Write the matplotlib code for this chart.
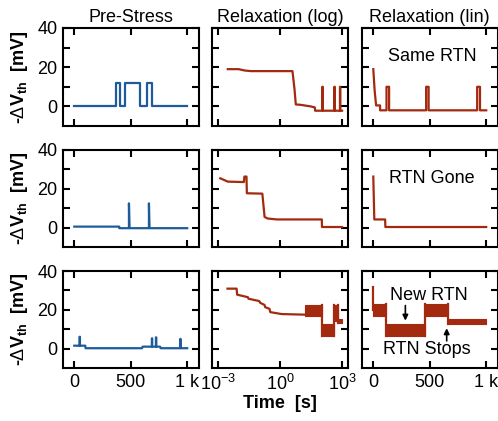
import matplotlib.pyplot as plt

plt.rcParams['font.family'] = ['Liberation Sans', 'DejaVu Sans']
plt.rcParams['mathtext.fontset'] = 'custom'
plt.rcParams['mathtext.rm'] = 'Liberation Sans'
plt.rcParams['mathtext.it'] = 'Liberation Sans:italic'
plt.rcParams['mathtext.bf'] = 'Liberation Sans:bold'

blue = '#1f5b9b'
red = '#a3290f'

# ---- row 1: same RTN ----
pre1_t = [0, 372, 372, 407, 407, 451, 451, 578, 578, 643, 643, 687, 687, 1000]
pre1_v = [0, 0, 12, 12, 0, 0, 12, 12, 0, 0, 12, 12, 0, 0]
log1_t = [3e-3, 1e-2, 2e-2, 4e-2, 4.0, 5.0, 5.8, 10, 30, 48, 50, 110, 110, 118, 118,
          420, 420, 445, 445, 790, 790, 820, 820, 1000]
log1_v = [19, 19, 18.3, 18, 18, 9, 1, 0.8, 0, -0.5, -2.2, -2.2, 10, 10, -2.2,
          -2.2, 10, 10, -2.2, -2.2, 10, 10, -2.2, -2.2]
lin1_t = [0, 12, 25, 60, 60, 117, 117, 140, 140, 468, 468, 490, 490, 920, 920, 945, 945, 1000]
lin1_v = [19, 8, 0.5, 0.5, -2, -2, 10, 10, -2, -2, 10, 10, -2, -2, 10, 10, -2, -2]

# ---- row 2: RTN gone ----
pre2_t = [0, 398, 398, 484, 484, 489, 489, 661, 661, 666, 666, 1000]
pre2_v = [0.5, 0.5, -0.3, -0.3, 12.5, -0.3, -0.3, -0.3, 12.5, -0.3, -0.3, -0.3]
log2_t = [1.3e-3, 3e-3, 1.4e-2, 1.8e-2, 1.9e-2, 2.4e-2, 2.5e-2, 0.14, 0.18, 0.25, 0.7,
          105, 107, 1000]
log2_v = [25.4, 23.7, 23.5, 23.5, 26.3, 26.3, 17.7, 17.5, 5.5, 4.7, 4.2, 4.2, 0.3, 0.3]
lin2_t = [0, 9, 105, 107, 1000]
lin2_v = [26.3, 4.2, 4.2, 0.3, 0.3]

# ---- row 3: new RTN / RTN stops ----
pre3_t = [0, 47, 47, 50, 50, 97, 100, 600, 605, 687, 687, 690, 690, 723, 723, 726, 726,
          760, 765, 938, 938, 941, 941, 1000]
pre3_v = [1.5, 1.5, 6.1, 6.1, 1.5, 1.5, 0.2, 0.2, 1.0, 1.0, 5.3, 5.3, 1.0, 1.0, 5.8, 5.8,
          1.0, 1.0, 0.2, 0.2, 5.0, 5.0, 0.2, 0.2]
log3_t = [2.9e-3, 8e-3, 8.5e-3, 0.028, 0.03, 0.1, 0.11, 0.18, 0.19, 0.31, 0.34, 1.2, 16]
log3_v = [30.9, 30.9, 27.8, 26.5, 25.7, 24.5, 23.6, 22.5, 21.4, 20.5, 18.8, 17.8, 17.5]
log3_band_t0 = [16, 105, 430, 650]
log3_band_t1 = [105, 430, 650, 1000]
log3_band_lo = [16.7, 6.3, 14.4, 13.0]
log3_band_hi = [22.6, 12.7, 22.6, 15.5]
lin3_spike_t = [0, 0]
lin3_spike_v = [31.8, 20]
lin3_band_t0 = [0, 109, 460, 664]
lin3_band_t1 = [109, 460, 664, 995]
lin3_band_lo = [17.0, 6.3, 17.0, 12.7]
lin3_band_hi = [23.1, 12.7, 23.1, 15.3]

col_titles = ['Pre-Stress', 'Relaxation (log)', 'Relaxation (lin)']

fig = plt.figure(figsize=(4.98, 4.21), dpi=100)
W, H = 498, 421
col_x = [63, 211.7, 362]
col_w = [135.5, 136.6, 135.5]
row_y = [28, 150, 271]
row_h = [98, 97, 97]

axes = []
for r in range(3):
    row = []
    for c in range(3):
        ax = fig.add_axes([col_x[c] / W, 1 - (row_y[r] + row_h[r]) / H,
                           col_w[c] / W, row_h[r] / H])
        row.append(ax)
    axes.append(row)


def draw_bands(ax, t0s, t1s, los, his):
    # dense RTN switching drawn as filled bands, joined by vertical edges
    for t0, t1, lo, hi in zip(t0s, t1s, los, his):
        ax.fill_between([t0, t1], lo, hi, color=red, lw=0.8, edgecolor=red)
    for i in range(len(t0s) - 1):
        ax.plot([t1s[i], t1s[i]], [min(los[i], los[i + 1]), max(his[i], his[i + 1])],
                color=red, lw=1.6)


# data
axes[0][0].plot(pre1_t, pre1_v, color=blue, lw=1.6)
axes[0][1].plot(log1_t, log1_v, color=red, lw=1.6)
axes[0][2].plot(lin1_t, lin1_v, color=red, lw=1.6)
axes[1][0].plot(pre2_t, pre2_v, color=blue, lw=1.6)
axes[1][1].plot(log2_t, log2_v, color=red, lw=1.6)
axes[1][2].plot(lin2_t, lin2_v, color=red, lw=1.6)
axes[2][0].plot(pre3_t, pre3_v, color=blue, lw=1.6)
axes[2][1].plot(log3_t, log3_v, color=red, lw=1.6)
draw_bands(axes[2][1], log3_band_t0, log3_band_t1, log3_band_lo, log3_band_hi)
axes[2][2].plot(lin3_spike_t, lin3_spike_v, color=red, lw=1.6)
draw_bands(axes[2][2], lin3_band_t0, lin3_band_t1, lin3_band_lo, lin3_band_hi)

for r in range(3):
    for c in range(3):
        ax = axes[r][c]
        ax.set_ylim(-10, 40)
        ax.set_yticks([0, 20, 40])
        ax.set_yticks([10, 30], minor=True)
        if c == 1:
            ax.set_xscale('log')
            ax.set_xlim(5e-4, 2e3)
            ax.set_xticks([1e-3, 1e0, 1e3])
            ax.set_xticklabels([r'$10^{-3}$', r'$10^{0}$', r'$10^{3}$'])
            ax.xaxis.set_minor_locator(plt.NullLocator())
        else:
            ax.set_xlim(-100, 1100)
            ax.set_xticks([0, 500, 1000])
            ax.set_xticklabels(['0', '500', '1 k'])
        ax.tick_params(which='both', direction='in', top=True, right=True,
                       length=5, width=1.5, labelsize=13, pad=4)
        for s in ax.spines.values():
            s.set_linewidth(1.5)
        if r < 2:
            ax.tick_params(labelbottom=False)
        if c > 0:
            ax.tick_params(labelleft=False)
        else:
            ax.set_ylabel(r'-$\Delta$V$_{\mathbf{th}}$  [mV]', fontsize=13,
                          fontweight='bold', labelpad=5.5)
        if r == 0:
            ax.set_title(col_titles[c], fontsize=13, pad=4)

axes[2][1].set_xlabel('Time  [s]', fontsize=13, fontweight='bold', labelpad=1)

axes[0][2].text(524, 25.6, 'Same RTN', fontsize=13, ha='center', va='center')
axes[1][2].text(515, 25.5, 'RTN Gone', fontsize=13, ha='center', va='center')
axes[2][2].text(489, 27.4, 'New RTN', fontsize=13, ha='center', va='center')
axes[2][2].text(474, -0.3, 'RTN Stops', fontsize=13, ha='center', va='center')
axes[2][2].annotate('', xy=(284, 14.4), xytext=(284, 22.2),
                    arrowprops=dict(arrowstyle='-|>', color='black', lw=1.2,
                                    mutation_scale=8, shrinkA=0, shrinkB=0))
axes[2][2].annotate('', xy=(650, 10.5), xytext=(650, 4.0),
                    arrowprops=dict(arrowstyle='-|>', color='black', lw=1.2,
                                    mutation_scale=8, shrinkA=0, shrinkB=0))

fig.savefig('out.png', dpi=100)
